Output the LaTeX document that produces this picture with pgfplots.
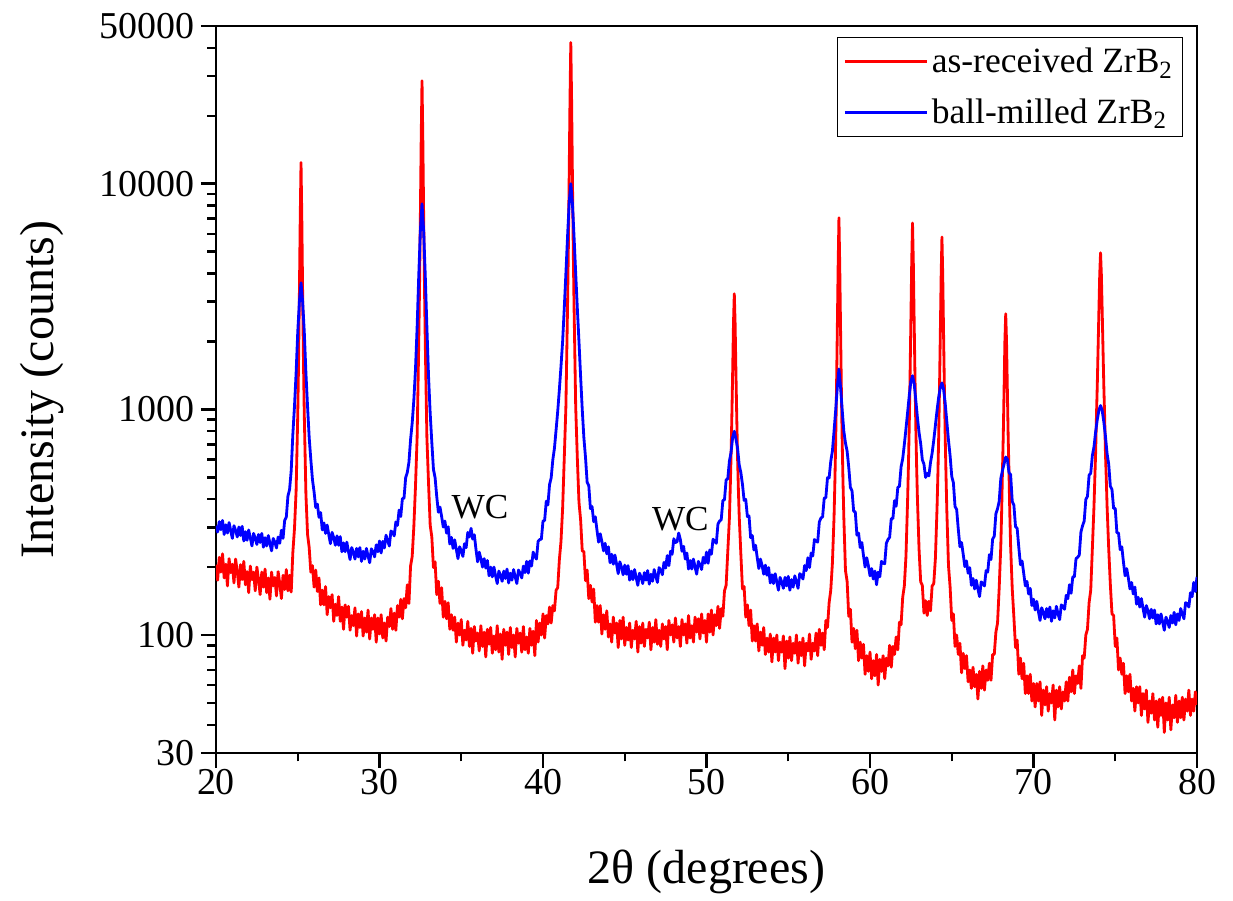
\documentclass[border=0pt]{standalone}
\usepackage{fontspec}
\setmainfont{Liberation Serif}
\usepackage{pgfplots}
\usepackage{pgfplotstable}
\pgfplotsset{compat=1.18}

% as-received ZrB2 (2theta, counts)
\pgfplotstableread[row sep=\\]{
x y\\
20.0 205\\ 20.1 175\\ 20.2 221\\ 20.3 190\\ 20.4 229\\ 20.5 179\\ 20.6 206\\ 20.7 165\\ 20.8 218\\ 20.9 189\\
21.0 206\\ 21.1 170\\ 21.2 217\\ 21.3 191\\ 21.4 163\\ 21.5 205\\ 21.6 176\\ 21.7 212\\ 21.8 167\\ 21.9 191\\
22.0 154\\ 22.1 202\\ 22.2 176\\ 22.3 190\\ 22.4 157\\ 22.5 200\\ 22.6 176\\ 22.7 151\\ 22.8 190\\ 22.9 163\\
23.0 196\\ 23.1 154\\ 23.2 179\\ 23.3 144\\ 23.4 190\\ 23.5 165\\ 23.6 180\\ 23.7 149\\ 23.8 191\\ 23.9 169\\
24.0 145\\ 24.1 184\\ 24.2 159\\ 24.3 195\\ 24.4 157\\ 24.5 184\\ 24.6 155\\ 24.7 232\\ 24.8 296\\ 24.9 435\\
25.0 948\\ 25.05 1622\\ 25.1 3215\\ 25.15 6890\\ 25.2 12400\\ 25.25 6880\\ 25.3 3210\\ 25.35 1620\\ 25.4 945\\ 25.5 420\\
25.6 279\\ 25.7 244\\ 25.8 190\\ 25.9 203\\ 26.0 163\\ 26.1 194\\ 26.2 156\\ 26.3 179\\ 26.4 136\\ 26.5 158\\
26.6 136\\ 26.7 164\\ 26.8 123\\ 26.9 148\\ 27.0 132\\ 27.1 151\\ 27.2 115\\ 27.3 137\\ 27.4 122\\ 27.5 148\\
27.6 115\\ 27.7 133\\ 27.8 106\\ 27.9 136\\ 28.0 120\\ 28.1 134\\ 28.2 105\\ 28.3 122\\ 28.4 110\\ 28.5 132\\
28.6 99\\ 28.7 124\\ 28.8 108\\ 28.9 127\\ 29.0 99\\ 29.1 119\\ 29.2 103\\ 29.3 129\\ 29.4 96\\ 29.5 119\\
29.6 106\\ 29.7 123\\ 29.8 93\\ 29.9 119\\ 30.0 101\\ 30.1 123\\ 30.2 97\\ 30.3 113\\ 30.4 94\\ 30.5 120\\
30.6 109\\ 30.7 131\\ 30.8 106\\ 30.9 125\\ 31.0 105\\ 31.1 135\\ 31.2 120\\ 31.3 144\\ 31.4 118\\ 31.5 145\\
31.6 132\\ 31.7 167\\ 31.8 138\\ 31.9 202\\ 32.0 223\\ 32.1 302\\ 32.2 453\\ 32.3 747\\ 32.35 1203\\ 32.4 1974\\
32.45 3541\\ 32.5 7247\\ 32.55 15797\\ 32.6 28600\\ 32.65 15800\\ 32.7 7250\\ 32.75 3540\\ 32.8 1970\\ 32.85 1200\\ 32.9 745\\
33.0 469\\ 33.1 307\\ 33.2 272\\ 33.3 199\\ 33.4 211\\ 33.5 151\\ 33.6 173\\ 33.7 138\\ 33.8 162\\ 33.9 120\\
34.0 141\\ 34.1 118\\ 34.2 139\\ 34.3 106\\ 34.4 123\\ 34.5 105\\ 34.6 120\\ 34.7 93\\ 34.8 113\\ 34.9 100\\
35.0 117\\ 35.1 90\\ 35.2 105\\ 35.3 95\\ 35.4 115\\ 35.5 89\\ 35.6 107\\ 35.7 83\\ 35.8 109\\ 35.9 94\\
36.0 102\\ 36.1 85\\ 36.2 110\\ 36.3 89\\ 36.4 103\\ 36.5 80\\ 36.6 106\\ 36.7 91\\ 36.8 108\\ 36.9 83\\
37.0 99\\ 37.1 86\\ 37.2 110\\ 37.3 84\\ 37.4 101\\ 37.5 78\\ 37.6 106\\ 37.7 90\\ 37.8 103\\ 37.9 82\\
38.0 108\\ 38.1 88\\ 38.2 100\\ 38.3 80\\ 38.4 107\\ 38.5 92\\ 38.6 102\\ 38.7 84\\ 38.8 109\\ 38.9 86\\
39.0 98\\ 39.1 83\\ 39.2 107\\ 39.3 90\\ 39.4 104\\ 39.5 81\\ 39.6 116\\ 39.7 93\\ 39.8 113\\ 39.9 100\\
40.0 124\\ 40.1 97\\ 40.2 122\\ 40.3 112\\ 40.4 133\\ 40.5 113\\ 40.6 135\\ 40.7 128\\ 40.8 158\\ 40.9 162\\
41.0 215\\ 41.1 260\\ 41.2 364\\ 41.3 606\\ 41.4 1027\\ 41.45 1701\\ 41.5 2838\\ 41.55 5153\\ 41.6 10626\\ 41.65 23256\\
41.7 42200\\ 41.75 23256\\ 41.8 10620\\ 41.85 5150\\ 41.9 2835\\ 41.95 1700\\ 42.0 1027\\ 42.1 606\\ 42.2 388\\ 42.3 324\\
42.4 236\\ 42.5 234\\ 42.6 174\\ 42.7 194\\ 42.8 145\\ 42.9 166\\ 43.0 140\\ 43.1 160\\ 43.2 114\\ 43.3 135\\
43.4 114\\ 43.5 135\\ 43.6 101\\ 43.7 123\\ 43.8 106\\ 43.9 128\\ 44.0 98\\ 44.1 112\\ 44.2 93\\ 44.3 120\\
44.4 102\\ 44.5 113\\ 44.6 88\\ 44.7 116\\ 44.8 96\\ 44.9 120\\ 45.0 90\\ 45.1 108\\ 45.2 95\\ 45.3 113\\
45.4 88\\ 45.5 105\\ 45.6 96\\ 45.7 115\\ 45.8 84\\ 45.9 109\\ 46.0 92\\ 46.1 113\\ 46.2 89\\ 46.3 106\\
46.4 97\\ 46.5 114\\ 46.6 86\\ 46.7 108\\ 46.8 93\\ 46.9 117\\ 47.0 91\\ 47.1 105\\ 47.2 89\\ 47.3 112\\
47.4 96\\ 47.5 109\\ 47.6 86\\ 47.7 116\\ 47.8 100\\ 47.9 111\\ 48.0 93\\ 48.1 119\\ 48.2 97\\ 48.3 109\\
48.4 89\\ 48.5 117\\ 48.6 100\\ 48.7 112\\ 48.8 92\\ 48.9 122\\ 49.0 97\\ 49.1 110\\ 49.2 93\\ 49.3 120\\
49.4 103\\ 49.5 118\\ 49.6 96\\ 49.7 124\\ 49.8 102\\ 49.9 116\\ 50.0 93\\ 50.1 124\\ 50.2 103\\ 50.3 129\\
50.4 100\\ 50.5 123\\ 50.6 110\\ 50.7 134\\ 50.8 107\\ 50.9 131\\ 51.0 121\\ 51.1 157\\ 51.2 166\\ 51.3 233\\
51.4 328\\ 51.45 442\\ 51.5 614\\ 51.55 928\\ 51.6 1462\\ 51.65 2404\\ 51.7 3250\\ 51.75 2400\\ 51.8 1460\\ 51.85 925\\
51.9 612\\ 51.95 440\\ 52.0 337\\ 52.1 229\\ 52.2 160\\ 52.3 164\\ 52.4 120\\ 52.5 136\\ 52.6 110\\ 52.7 129\\
52.8 94\\ 52.9 110\\ 53.0 94\\ 53.1 112\\ 53.2 85\\ 53.3 103\\ 53.4 90\\ 53.5 108\\ 53.6 82\\ 53.7 97\\
53.8 84\\ 53.9 101\\ 54.0 76\\ 54.1 97\\ 54.2 84\\ 54.3 100\\ 54.4 77\\ 54.5 93\\ 54.6 84\\ 54.7 99\\
54.8 71\\ 54.9 94\\ 55.0 79\\ 55.1 98\\ 55.2 77\\ 55.3 92\\ 55.4 83\\ 55.5 100\\ 55.6 75\\ 55.7 93\\
55.8 81\\ 55.9 97\\ 56.0 73\\ 56.1 92\\ 56.2 85\\ 56.3 101\\ 56.4 78\\ 56.5 92\\ 56.6 85\\ 56.7 102\\
56.8 81\\ 56.9 106\\ 57.0 90\\ 57.1 102\\ 57.2 86\\ 57.3 116\\ 57.4 108\\ 57.5 139\\ 57.6 158\\ 57.7 208\\
57.8 332\\ 57.85 471\\ 57.9 715\\ 57.95 1203\\ 58.0 2248\\ 58.05 4270\\ 58.1 7060\\ 58.15 4270\\ 58.2 2245\\ 58.25 1200\\
58.3 713\\ 58.35 470\\ 58.4 330\\ 58.5 193\\ 58.6 173\\ 58.7 121\\ 58.8 130\\ 58.9 93\\ 59.0 107\\ 59.1 87\\
59.2 105\\ 59.3 77\\ 59.4 93\\ 59.5 79\\ 59.6 91\\ 59.7 67\\ 59.8 81\\ 59.9 69\\ 60.0 84\\ 60.1 64\\
60.2 77\\ 60.3 66\\ 60.4 82\\ 60.5 60\\ 60.6 78\\ 60.7 69\\ 60.8 81\\ 60.9 64\\ 61.0 79\\ 61.1 73\\
61.2 90\\ 61.3 72\\ 61.4 89\\ 61.5 82\\ 61.6 98\\ 61.7 86\\ 61.8 114\\ 61.9 111\\ 62.0 147\\ 62.1 165\\
62.2 224\\ 62.3 397\\ 62.35 562\\ 62.4 846\\ 62.45 1410\\ 62.5 2468\\ 62.55 4450\\ 62.6 6700\\ 62.65 4450\\ 62.7 2470\\
62.75 1410\\ 62.8 850\\ 62.85 565\\ 62.9 403\\ 63.0 240\\ 63.1 172\\ 63.2 166\\ 63.3 125\\ 63.4 142\\ 63.5 122\\
63.6 141\\ 63.7 128\\ 63.8 165\\ 63.9 169\\ 64.0 219\\ 64.1 366\\ 64.15 508\\ 64.2 753\\ 64.25 1238\\ 64.3 2150\\
64.35 3863\\ 64.4 5800\\ 64.45 3860\\ 64.5 2145\\ 64.55 1235\\ 64.6 750\\ 64.65 505\\ 64.7 353\\ 64.8 203\\ 64.9 163\\
65.0 116\\ 65.1 124\\ 65.2 89\\ 65.3 100\\ 65.4 82\\ 65.5 92\\ 65.6 68\\ 65.7 83\\ 65.8 71\\ 65.9 81\\
66.0 62\\ 66.1 70\\ 66.2 58\\ 66.3 72\\ 66.4 59\\ 66.5 67\\ 66.6 52\\ 66.7 69\\ 66.8 58\\ 66.9 73\\
67.0 57\\ 67.1 70\\ 67.2 63\\ 67.3 75\\ 67.4 63\\ 67.5 82\\ 67.6 82\\ 67.7 103\\ 67.8 113\\ 67.9 161\\
68.0 249\\ 68.05 348\\ 68.1 529\\ 68.15 763\\ 68.2 1228\\ 68.25 2006\\ 68.3 2650\\ 68.35 2005\\ 68.4 1225\\ 68.45 760\\
68.5 527\\ 68.55 346\\ 68.6 248\\ 68.7 160\\ 68.8 120\\ 68.9 88\\ 69.0 95\\ 69.1 67\\ 69.2 79\\ 69.3 64\\
69.4 75\\ 69.5 55\\ 69.6 66\\ 69.7 55\\ 69.8 67\\ 69.9 51\\ 70.0 61\\ 70.1 48\\ 70.2 61\\ 70.3 51\\
70.4 62\\ 70.5 44\\ 70.6 57\\ 70.7 49\\ 70.8 59\\ 70.9 46\\ 71.0 55\\ 71.1 50\\ 71.2 60\\ 71.3 42\\
71.4 57\\ 71.5 48\\ 71.6 59\\ 71.7 47\\ 71.8 56\\ 71.9 51\\ 72.0 62\\ 72.1 51\\ 72.2 65\\ 72.3 56\\
72.4 70\\ 72.5 55\\ 72.6 66\\ 72.7 61\\ 72.8 73\\ 72.9 58\\ 73.0 81\\ 73.1 79\\ 73.2 100\\ 73.3 106\\
73.4 139\\ 73.5 158\\ 73.6 242\\ 73.7 374\\ 73.75 496\\ 73.8 642\\ 73.85 935\\ 73.9 1277\\ 73.95 1863\\ 74.0 2743\\
74.05 3964\\ 74.1 4940\\ 74.15 3960\\ 74.2 2740\\ 74.25 1860\\ 74.3 1275\\ 74.35 935\\ 74.4 640\\ 74.45 495\\ 74.5 372\\
74.6 241\\ 74.7 167\\ 74.8 124\\ 74.9 122\\ 75.0 89\\ 75.1 97\\ 75.2 70\\ 75.3 79\\ 75.4 67\\ 75.5 75\\
75.6 55\\ 75.7 66\\ 75.8 56\\ 75.9 67\\ 76.0 51\\ 76.1 58\\ 76.2 46\\ 76.3 59\\ 76.4 50\\ 76.5 59\\
76.6 44\\ 76.7 55\\ 76.8 47\\ 76.9 57\\ 77.0 41\\ 77.1 51\\ 77.2 45\\ 77.3 55\\ 77.4 42\\ 77.5 51\\
77.6 39\\ 77.7 52\\ 77.8 44\\ 77.9 53\\ 78.0 37\\ 78.1 50\\ 78.2 42\\ 78.3 53\\ 78.4 38\\ 78.5 49\\
78.6 43\\ 78.7 54\\ 78.8 41\\ 78.9 51\\ 79.0 43\\ 79.1 53\\ 79.2 42\\ 79.3 52\\ 79.4 46\\ 79.5 57\\
79.6 44\\ 79.7 52\\ 79.8 46\\ 79.9 56\\ 80.0 49\\
}\asreceived

% ball-milled ZrB2 (2theta, counts)
\pgfplotstableread[row sep=\\]{
x y\\
20.0 305\\ 20.1 286\\ 20.2 318\\ 20.3 293\\ 20.4 322\\ 20.5 279\\ 20.6 308\\ 20.7 283\\ 20.8 315\\ 20.9 290\\
21.0 268\\ 21.1 305\\ 21.2 291\\ 21.3 272\\ 21.4 301\\ 21.5 276\\ 21.6 303\\ 21.7 261\\ 21.8 287\\ 21.9 263\\
22.0 292\\ 22.1 269\\ 22.2 248\\ 22.3 282\\ 22.4 269\\ 22.5 252\\ 22.6 279\\ 22.7 257\\ 22.8 282\\ 22.9 245\\
23.0 270\\ 23.1 248\\ 23.2 276\\ 23.3 254\\ 23.4 236\\ 23.5 268\\ 23.6 258\\ 23.7 243\\ 23.8 272\\ 23.9 255\\
24.0 291\\ 24.1 268\\ 24.2 322\\ 24.3 333\\ 24.4 413\\ 24.5 441\\ 24.6 535\\ 24.7 775\\ 24.8 1030\\ 24.9 1450\\
25.0 2200\\ 25.1 3000\\ 25.2 3640\\ 25.3 3000\\ 25.4 2200\\ 25.5 1450\\ 25.6 1030\\ 25.7 749\\ 25.8 599\\ 25.9 488\\
26.0 430\\ 26.1 367\\ 26.2 380\\ 26.3 332\\ 26.4 349\\ 26.5 292\\ 26.6 314\\ 26.7 282\\ 26.8 307\\ 26.9 278\\
27.0 254\\ 27.1 285\\ 27.2 270\\ 27.3 250\\ 27.4 275\\ 27.5 250\\ 27.6 273\\ 27.7 234\\ 27.8 256\\ 27.9 234\\
28.0 258\\ 28.1 235\\ 28.2 216\\ 28.3 244\\ 28.4 233\\ 28.5 217\\ 28.6 242\\ 28.7 222\\ 28.8 244\\ 28.9 212\\
29.0 235\\ 29.1 217\\ 29.2 242\\ 29.3 224\\ 29.4 209\\ 29.5 241\\ 29.6 234\\ 29.7 222\\ 29.8 251\\ 29.9 234\\
30.0 261\\ 30.1 231\\ 30.2 260\\ 30.3 243\\ 30.4 277\\ 30.5 261\\ 30.6 248\\ 30.7 289\\ 30.8 285\\ 30.9 275\\
31.0 317\\ 31.1 306\\ 31.2 358\\ 31.3 335\\ 31.4 402\\ 31.5 404\\ 31.6 498\\ 31.7 525\\ 31.8 583\\ 31.9 734\\
32.0 870\\ 32.1 1100\\ 32.2 1500\\ 32.3 2300\\ 32.4 3900\\ 32.5 6200\\ 32.6 8150\\ 32.7 6200\\ 32.8 3900\\ 32.9 2300\\
33.0 1400\\ 33.1 960\\ 33.2 714\\ 33.3 542\\ 33.4 498\\ 33.5 412\\ 33.6 350\\ 33.7 369\\ 33.8 335\\ 33.9 301\\
34.0 320\\ 34.1 283\\ 34.2 302\\ 34.3 253\\ 34.4 271\\ 34.5 242\\ 34.6 264\\ 34.7 239\\ 34.8 218\\ 34.9 246\\
35.0 236\\ 35.1 223\\ 35.2 254\\ 35.3 244\\ 35.4 285\\ 35.5 272\\ 35.6 297\\ 35.7 266\\ 35.8 278\\ 35.9 240\\
36.0 211\\ 36.1 233\\ 36.2 218\\ 36.3 200\\ 36.4 218\\ 36.5 198\\ 36.6 214\\ 36.7 183\\ 36.8 200\\ 36.9 181\\
37.0 200\\ 37.1 183\\ 37.2 169\\ 37.3 192\\ 37.4 184\\ 37.5 173\\ 37.6 192\\ 37.7 178\\ 37.8 196\\ 37.9 170\\
38.0 188\\ 38.1 175\\ 38.2 195\\ 38.3 181\\ 38.4 169\\ 38.5 194\\ 38.6 188\\ 38.7 179\\ 38.8 202\\ 38.9 189\\
39.0 212\\ 39.1 188\\ 39.2 213\\ 39.3 202\\ 39.4 233\\ 39.5 223\\ 39.6 217\\ 39.7 260\\ 39.8 265\\ 39.9 266\\
40.0 320\\ 40.1 322\\ 40.2 392\\ 40.3 377\\ 40.4 464\\ 40.5 497\\ 40.6 597\\ 40.7 673\\ 40.8 810\\ 40.9 980\\
41.0 1220\\ 41.1 1550\\ 41.2 2000\\ 41.3 2800\\ 41.4 4000\\ 41.5 5800\\ 41.6 8200\\ 41.7 10000\\ 41.8 8200\\ 41.9 5800\\
42.0 4000\\ 42.1 2800\\ 42.2 2000\\ 42.3 1400\\ 42.4 1000\\ 42.5 749\\ 42.6 612\\ 42.7 475\\ 42.8 460\\ 42.9 363\\
43.0 371\\ 43.1 318\\ 43.2 334\\ 43.3 292\\ 43.4 258\\ 43.5 281\\ 43.6 260\\ 43.7 236\\ 43.8 255\\ 43.9 229\\
44.0 246\\ 44.1 209\\ 44.2 228\\ 44.3 206\\ 44.4 226\\ 44.5 206\\ 44.6 187\\ 44.7 211\\ 44.8 200\\ 44.9 185\\
45.0 204\\ 45.1 186\\ 45.2 203\\ 45.3 175\\ 45.4 192\\ 45.5 176\\ 45.6 195\\ 45.7 179\\ 45.8 166\\ 45.9 188\\
46.0 181\\ 46.1 169\\ 46.2 189\\ 46.3 175\\ 46.4 193\\ 46.5 168\\ 46.6 186\\ 46.7 173\\ 46.8 195\\ 46.9 182\\
47.0 171\\ 47.1 199\\ 47.2 194\\ 47.3 185\\ 47.4 210\\ 47.5 198\\ 47.6 225\\ 47.7 203\\ 47.8 235\\ 47.9 228\\
48.0 267\\ 48.1 257\\ 48.2 259\\ 48.3 283\\ 48.4 265\\ 48.5 235\\ 48.6 247\\ 48.7 217\\ 48.8 231\\ 48.9 196\\
49.0 214\\ 49.1 196\\ 49.2 217\\ 49.3 200\\ 49.4 186\\ 49.5 212\\ 49.6 205\\ 49.7 195\\ 49.8 221\\ 49.9 208\\
50.0 233\\ 50.1 208\\ 50.2 238\\ 50.3 228\\ 50.4 266\\ 50.5 259\\ 50.6 255\\ 50.7 310\\ 50.8 320\\ 50.9 324\\
51.0 394\\ 51.1 398\\ 51.2 487\\ 51.3 492\\ 51.4 589\\ 51.5 644\\ 51.6 752\\ 51.7 800\\ 51.8 738\\ 51.9 673\\
52.0 568\\ 52.1 525\\ 52.2 465\\ 52.3 395\\ 52.4 399\\ 52.5 335\\ 52.6 337\\ 52.7 270\\ 52.8 276\\ 52.9 238\\
53.0 250\\ 53.1 221\\ 53.2 197\\ 53.3 217\\ 53.4 203\\ 53.5 186\\ 53.6 204\\ 53.7 184\\ 53.8 199\\ 53.9 170\\
54.0 185\\ 54.1 169\\ 54.2 187\\ 54.3 172\\ 54.4 158\\ 54.5 180\\ 54.6 172\\ 54.7 161\\ 54.8 180\\ 54.9 165\\
55.0 182\\ 55.1 158\\ 55.2 176\\ 55.3 163\\ 55.4 183\\ 55.5 172\\ 55.6 161\\ 55.7 187\\ 55.8 184\\ 55.9 177\\
56.0 203\\ 56.1 193\\ 56.2 220\\ 56.3 199\\ 56.4 231\\ 56.5 224\\ 56.6 265\\ 56.7 261\\ 56.8 258\\ 56.9 317\\
57.0 330\\ 57.1 334\\ 57.2 404\\ 57.3 407\\ 57.4 498\\ 57.5 497\\ 57.6 589\\ 57.7 653\\ 57.8 800\\ 57.9 990\\
58.0 1250\\ 58.1 1510\\ 58.2 1250\\ 58.3 990\\ 58.4 800\\ 58.5 709\\ 58.6 653\\ 58.7 554\\ 58.8 451\\ 58.9 436\\
59.0 354\\ 59.1 351\\ 59.2 277\\ 59.3 283\\ 59.4 244\\ 59.5 257\\ 59.6 225\\ 59.7 200\\ 59.8 220\\ 59.9 203\\
60.0 183\\ 60.1 197\\ 60.2 177\\ 60.3 192\\ 60.4 167\\ 60.5 190\\ 60.6 181\\ 60.7 212\\ 60.8 208\\ 60.9 207\\
61.0 255\\ 61.1 265\\ 61.2 271\\ 61.3 328\\ 61.4 328\\ 61.5 394\\ 61.6 372\\ 61.7 451\\ 61.8 456\\ 61.9 556\\
62.0 604\\ 62.1 700\\ 62.2 820\\ 62.3 970\\ 62.4 1150\\ 62.5 1330\\ 62.6 1410\\ 62.7 1300\\ 62.8 1100\\ 62.9 920\\
63.0 790\\ 63.1 704\\ 63.2 598\\ 63.3 572\\ 63.4 499\\ 63.5 520\\ 63.6 507\\ 63.7 581\\ 63.8 640\\ 63.9 730\\
64.0 850\\ 64.1 990\\ 64.2 1130\\ 64.3 1250\\ 64.4 1310\\ 64.5 1230\\ 64.6 1060\\ 64.7 880\\ 64.8 730\\ 64.9 622\\
65.0 504\\ 65.1 473\\ 65.2 371\\ 65.3 360\\ 65.4 294\\ 65.5 246\\ 65.6 257\\ 65.7 228\\ 65.8 201\\ 65.9 213\\
66.0 188\\ 66.1 199\\ 66.2 166\\ 66.3 178\\ 66.4 160\\ 66.5 175\\ 66.6 160\\ 66.7 148\\ 66.8 172\\ 66.9 169\\
67.0 165\\ 67.1 193\\ 67.2 190\\ 67.3 227\\ 67.4 216\\ 67.5 266\\ 67.6 274\\ 67.7 345\\ 67.8 363\\ 67.9 391\\
68.0 494\\ 68.1 535\\ 68.2 573\\ 68.3 615\\ 68.4 602\\ 68.5 524\\ 68.6 514\\ 68.7 391\\ 68.8 376\\ 68.9 302\\
69.0 297\\ 69.1 245\\ 69.2 205\\ 69.3 213\\ 69.4 188\\ 69.5 165\\ 69.6 173\\ 69.7 152\\ 69.8 161\\ 69.9 135\\
70.0 144\\ 70.1 129\\ 70.2 141\\ 70.3 127\\ 70.4 116\\ 70.5 132\\ 70.6 126\\ 70.7 118\\ 70.8 131\\ 70.9 120\\
71.0 133\\ 71.1 115\\ 71.2 128\\ 71.3 119\\ 71.4 134\\ 71.5 124\\ 71.6 117\\ 71.7 136\\ 71.8 134\\ 71.9 130\\
72.0 150\\ 72.1 145\\ 72.2 167\\ 72.3 153\\ 72.4 181\\ 72.5 181\\ 72.6 218\\ 72.7 221\\ 72.8 226\\ 72.9 286\\
73.0 305\\ 73.1 320\\ 73.2 399\\ 73.3 412\\ 73.4 511\\ 73.5 521\\ 73.6 624\\ 73.7 683\\ 73.8 795\\ 73.9 900\\
74.0 990\\ 74.1 1040\\ 74.2 990\\ 74.3 880\\ 74.4 760\\ 74.5 637\\ 74.6 571\\ 74.7 456\\ 74.8 441\\ 74.9 364\\
75.0 364\\ 75.1 284\\ 75.2 283\\ 75.3 239\\ 75.4 246\\ 75.5 211\\ 75.6 183\\ 75.7 197\\ 75.8 179\\ 75.9 160\\
76.0 171\\ 76.1 152\\ 76.2 163\\ 76.3 137\\ 76.4 147\\ 76.5 133\\ 76.6 145\\ 76.7 131\\ 76.8 120\\ 76.9 135\\
77.0 128\\ 77.1 118\\ 77.2 130\\ 77.3 119\\ 77.4 129\\ 77.5 112\\ 77.6 123\\ 77.7 112\\ 77.8 124\\ 77.9 114\\
78.0 105\\ 78.1 120\\ 78.2 115\\ 78.3 108\\ 78.4 122\\ 78.5 113\\ 78.6 126\\ 78.7 111\\ 78.8 124\\ 78.9 116\\
79.0 131\\ 79.1 124\\ 79.2 118\\ 79.3 139\\ 79.4 138\\ 79.5 133\\ 79.6 154\\ 79.7 148\\ 79.8 171\\ 79.9 156\\
80.0 181\\
}\ballmilled

\begin{document}
\begin{tikzpicture}
\begin{axis}[
    scale only axis,
    width=196.2mm, height=145.4mm,
    xmin=20, xmax=80,
    ymin=30, ymax=50000,
    ymode=log,
    xtick={20,30,...,80},
    minor x tick num=1,
    ytick={30,100,1000,10000,50000},
    yticklabels={30,100,1000,10000,50000},
    minor ytick={40,50,60,70,80,90,200,300,400,500,600,700,800,900,2000,3000,4000,5000,6000,7000,8000,9000,20000,30000,40000},
    tick align=outside,
    tick pos=left,
    major tick length=3mm,
    minor tick length=1.7mm,
    axis line style={line width=1.4pt},
    every tick/.append style={black, line width=1.4pt},
    tick label style={font=\fontsize{21.6}{26}\selectfont},
    xticklabel style={yshift=1mm},
    /pgf/number format/assume math mode=true,
    xlabel={2θ (degrees)},
    ylabel={Intensity (counts)},
    label style={font=\fontsize{27.3}{32}\selectfont},
    xlabel style={at={(axis description cs:0.5,-0.1793)}, anchor=base},
    ylabel style={at={(axis description cs:-0.1653,0.5)}, anchor=base},
    legend style={
        at={(0.9857,0.9848)}, anchor=north east,
        draw=black, line width=0.8pt,
        font=\fontsize{20.2}{24}\selectfont,
        inner xsep=1.2mm, inner ysep=1.4mm,
        row sep=3.2mm,
        /tikz/every even column/.append style={column sep=1.6mm},
        cells={anchor=west},
    },
    legend image code/.code={\draw[#1, line width=1.6pt] (0mm,0mm) -- (16.4mm,0mm);},
]
\addplot[red, line width=1.6pt, line join=round] table {\asreceived};
\addplot[blue, line width=1.6pt, line join=round] table {\ballmilled};
\legend{as-received ZrB\textsubscript{2}, ball-milled ZrB\textsubscript{2}}

\node[font=\fontsize{20}{24}\selectfont, anchor=base] at (axis cs:36.15,330) {WC};
\node[font=\fontsize{20}{24}\selectfont, anchor=base] at (axis cs:48.4,290) {WC};

\coordinate (SW) at (rel axis cs:0,0);
\end{axis}
\pgfresetboundingbox
\path[use as bounding box] ([xshift=-43.2mm, yshift=-29.6mm]SW) rectangle ++(246.6mm,180.2mm);
\end{tikzpicture}
\end{document}
